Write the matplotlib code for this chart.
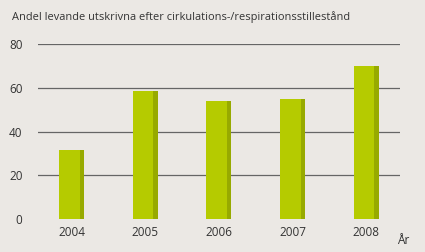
import matplotlib
matplotlib.use('Agg')
from matplotlib import pyplot as plt
import numpy as np

plt.rcParams['font.family'] = ['Open Sans', 'DejaVu Sans']

years = ['2004', '2005', '2006', '2007', '2008']
values = [31.5, 58.5, 54, 55, 70]
yticks = [0, 20, 40, 60, 80]

bg = '#ebe8e4'
fig = plt.figure(figsize=(4.25, 2.52), dpi=100, facecolor=bg)
ax = fig.add_axes([0.089, 0.131, 0.852, 0.694], facecolor=bg)

x = np.arange(len(years))
w = 0.34
for yv in yticks[1:]:
    ax.axhline(yv, color='#656565', lw=0.9, zorder=1)
ax.bar(x, values, width=w, color='#b5cb00', zorder=2)
# darker right edge of each bar
ax.bar(x + w / 2 - 0.03, values, width=0.06, color='#97aa00', zorder=3)

ax.set_xlim(-0.46, 4.46)
ax.set_ylim(0, 80)
ax.set_xticks(x)
ax.set_xticklabels(years)
ax.set_yticks(yticks)
ax.tick_params(length=0, labelsize=8.5, colors='#333333')
ax.tick_params(axis='y', pad=11)
ax.tick_params(axis='x', pad=5)
for s in ax.spines.values():
    s.set_visible(False)

fig.text(12 / 425, 1 - 17 / 252, 'Andel levande utskrivna efter cirkulations-/respirationsstillestånd',
         fontsize=7.9, color='#333333', va='center', ha='left')
fig.text(403 / 425, 1 - 241 / 252, 'År', fontsize=8.5, color='#333333', va='center', ha='center')

fig.savefig('out.png', dpi=100, facecolor=bg)
